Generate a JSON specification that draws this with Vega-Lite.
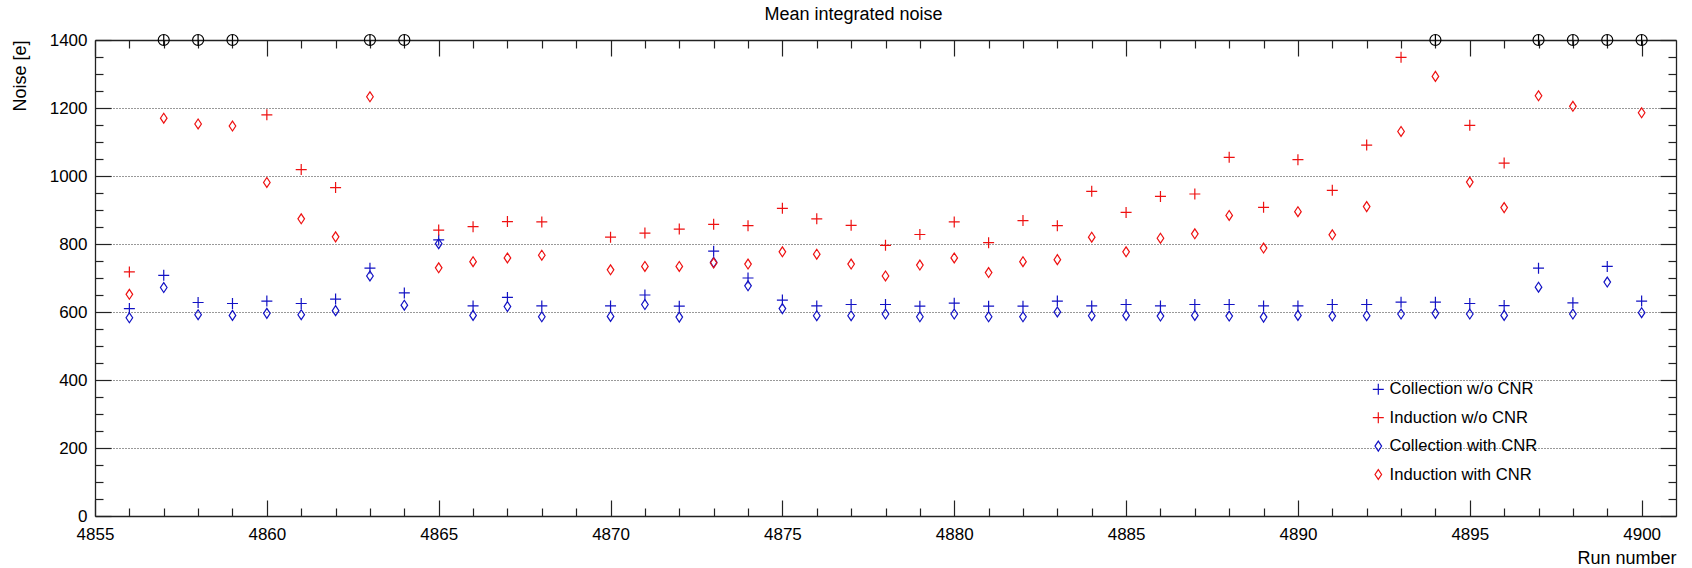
{
  "$schema": "https://vega.github.io/schema/vega-lite/v6.json",
  "width": 1581,
  "height": 476,
  "autosize": {"type": "none"},
  "padding": {"left": 95, "top": 40, "right": 16, "bottom": 52},
  "background": "white",
  "config": {
    "view": {"stroke": null},
    "font": "Liberation Sans",
    "axis": {
      "domainColor": "#222",
      "domainWidth": 1.3,
      "tickColor": "#222",
      "tickWidth": 1.2,
      "labelFont": "Liberation Sans",
      "labelFontSize": 17,
      "labelColor": "black",
      "labelFlush": false,
      "labelOverlap": false,
      "titleFont": "Liberation Sans",
      "titleFontSize": 18,
      "titleFontWeight": "normal",
      "titleColor": "black"
    }
  },
  "title": {
    "text": "Mean integrated noise",
    "font": "Liberation Sans",
    "fontSize": 18,
    "fontWeight": "normal",
    "color": "black",
    "anchor": "middle",
    "dx": -32,
    "offset": 7
  },
  "datasets": {
    "noise": [
      {"run": 4856, "Collection w/o CNR": 610, "Induction w/o CNR": 718, "Collection with CNR": 583, "Induction with CNR": 652},
      {"run": 4857, "Collection w/o CNR": 708, "Induction w/o CNR": null, "Collection with CNR": 672, "Induction with CNR": 1170},
      {"run": 4858, "Collection w/o CNR": 628, "Induction w/o CNR": null, "Collection with CNR": 592, "Induction with CNR": 1153},
      {"run": 4859, "Collection w/o CNR": 625, "Induction w/o CNR": null, "Collection with CNR": 590, "Induction with CNR": 1147},
      {"run": 4860, "Collection w/o CNR": 632, "Induction w/o CNR": 1180, "Collection with CNR": 596, "Induction with CNR": 981},
      {"run": 4861, "Collection w/o CNR": 625, "Induction w/o CNR": 1019, "Collection with CNR": 592, "Induction with CNR": 874},
      {"run": 4862, "Collection w/o CNR": 638, "Induction w/o CNR": 966, "Collection with CNR": 604, "Induction with CNR": 821},
      {"run": 4863, "Collection w/o CNR": 729, "Induction w/o CNR": null, "Collection with CNR": 706, "Induction with CNR": 1233},
      {"run": 4864, "Collection w/o CNR": 656, "Induction w/o CNR": null, "Collection with CNR": 620, "Induction with CNR": null},
      {"run": 4865, "Collection w/o CNR": 812, "Induction w/o CNR": 841, "Collection with CNR": 801, "Induction with CNR": 730},
      {"run": 4866, "Collection w/o CNR": 618, "Induction w/o CNR": 851, "Collection with CNR": 590, "Induction with CNR": 748},
      {"run": 4867, "Collection w/o CNR": 643, "Induction w/o CNR": 866, "Collection with CNR": 616, "Induction with CNR": 759},
      {"run": 4868, "Collection w/o CNR": 618, "Induction w/o CNR": 865, "Collection with CNR": 586, "Induction with CNR": 767},
      {"run": 4870, "Collection w/o CNR": 618, "Induction w/o CNR": 820, "Collection with CNR": 587, "Induction with CNR": 724},
      {"run": 4871, "Collection w/o CNR": 650, "Induction w/o CNR": 832, "Collection with CNR": 622, "Induction with CNR": 734},
      {"run": 4872, "Collection w/o CNR": 617, "Induction w/o CNR": 844, "Collection with CNR": 585, "Induction with CNR": 734},
      {"run": 4873, "Collection w/o CNR": 779, "Induction w/o CNR": 858, "Collection with CNR": 746, "Induction with CNR": 744},
      {"run": 4874, "Collection w/o CNR": 700, "Induction w/o CNR": 854, "Collection with CNR": 677, "Induction with CNR": 741},
      {"run": 4875, "Collection w/o CNR": 635, "Induction w/o CNR": 905, "Collection with CNR": 610, "Induction with CNR": 777},
      {"run": 4876, "Collection w/o CNR": 618, "Induction w/o CNR": 874, "Collection with CNR": 589, "Induction with CNR": 770},
      {"run": 4877, "Collection w/o CNR": 622, "Induction w/o CNR": 855, "Collection with CNR": 589, "Induction with CNR": 741},
      {"run": 4878, "Collection w/o CNR": 622, "Induction w/o CNR": 796, "Collection with CNR": 594, "Induction with CNR": 706},
      {"run": 4879, "Collection w/o CNR": 617, "Induction w/o CNR": 828, "Collection with CNR": 586, "Induction with CNR": 738},
      {"run": 4880, "Collection w/o CNR": 626, "Induction w/o CNR": 865, "Collection with CNR": 594, "Induction with CNR": 759},
      {"run": 4881, "Collection w/o CNR": 617, "Induction w/o CNR": 804, "Collection with CNR": 586, "Induction with CNR": 716},
      {"run": 4882, "Collection w/o CNR": 617, "Induction w/o CNR": 869, "Collection with CNR": 586, "Induction with CNR": 748},
      {"run": 4883, "Collection w/o CNR": 632, "Induction w/o CNR": 854, "Collection with CNR": 600, "Induction with CNR": 754},
      {"run": 4884, "Collection w/o CNR": 618, "Induction w/o CNR": 955, "Collection with CNR": 589, "Induction with CNR": 820},
      {"run": 4885, "Collection w/o CNR": 622, "Induction w/o CNR": 893, "Collection with CNR": 590, "Induction with CNR": 777},
      {"run": 4886, "Collection w/o CNR": 618, "Induction w/o CNR": 940, "Collection with CNR": 588, "Induction with CNR": 817},
      {"run": 4887, "Collection w/o CNR": 622, "Induction w/o CNR": 947, "Collection with CNR": 590, "Induction with CNR": 830},
      {"run": 4888, "Collection w/o CNR": 622, "Induction w/o CNR": 1055, "Collection with CNR": 588, "Induction with CNR": 884},
      {"run": 4889, "Collection w/o CNR": 618, "Induction w/o CNR": 908, "Collection with CNR": 585, "Induction with CNR": 788},
      {"run": 4890, "Collection w/o CNR": 618, "Induction w/o CNR": 1048, "Collection with CNR": 590, "Induction with CNR": 895},
      {"run": 4891, "Collection w/o CNR": 622, "Induction w/o CNR": 958, "Collection with CNR": 588, "Induction with CNR": 827},
      {"run": 4892, "Collection w/o CNR": 622, "Induction w/o CNR": 1091, "Collection with CNR": 589, "Induction with CNR": 910},
      {"run": 4893, "Collection w/o CNR": 629, "Induction w/o CNR": 1349, "Collection with CNR": 594, "Induction with CNR": 1131},
      {"run": 4894, "Collection w/o CNR": 629, "Induction w/o CNR": null, "Collection with CNR": 596, "Induction with CNR": 1293},
      {"run": 4895, "Collection w/o CNR": 625, "Induction w/o CNR": 1149, "Collection with CNR": 594, "Induction with CNR": 982},
      {"run": 4896, "Collection w/o CNR": 619, "Induction w/o CNR": 1038, "Collection with CNR": 590, "Induction with CNR": 907},
      {"run": 4897, "Collection w/o CNR": 729, "Induction w/o CNR": null, "Collection with CNR": 673, "Induction with CNR": 1236},
      {"run": 4898, "Collection w/o CNR": 627, "Induction w/o CNR": null, "Collection with CNR": 594, "Induction with CNR": 1205},
      {"run": 4899, "Collection w/o CNR": 734, "Induction w/o CNR": null, "Collection with CNR": 688, "Induction with CNR": null},
      {"run": 4900, "Collection w/o CNR": 632, "Induction w/o CNR": null, "Collection with CNR": 598, "Induction with CNR": 1186}
    ],
    "offscale": [
      {"run": 4857, "noise": 1400},
      {"run": 4858, "noise": 1400},
      {"run": 4859, "noise": 1400},
      {"run": 4863, "noise": 1400},
      {"run": 4864, "noise": 1400},
      {"run": 4894, "noise": 1400},
      {"run": 4897, "noise": 1400},
      {"run": 4898, "noise": 1400},
      {"run": 4899, "noise": 1400},
      {"run": 4900, "noise": 1400}
    ]
  },
  "layer": [
    {
      "data": {"name": "noise"},
      "transform": [
        {"fold": ["Collection w/o CNR", "Induction w/o CNR", "Collection with CNR", "Induction with CNR"], "as": ["series", "noise"]},
        {"filter": "datum.noise != null"}
      ],
      "mark": {"type": "point", "filled": false, "size": 121, "strokeWidth": 1.2, "opacity": 1},
      "encoding": {
        "x": {
          "field": "run", "type": "quantitative",
          "scale": {"domain": [4855, 4901], "nice": false, "zero": false},
          "axis": {
            "orient": "bottom",
            "values": [4855,4856,4857,4858,4859,4860,4861,4862,4863,4864,4865,4866,4867,4868,4869,4870,4871,4872,4873,4874,4875,4876,4877,4878,4879,4880,4881,4882,4883,4884,4885,4886,4887,4888,4889,4890,4891,4892,4893,4894,4895,4896,4897,4898,4899,4900],
            "format": "d",
            "labelExpr": "datum.value % 5 === 0 ? datum.label : ''",
            "tickSize": {"condition": {"test": "datum.value % 5 === 0", "value": -16}, "value": -8},
            "labelPadding": 26,
            "grid": false,
            "title": "Run number",
            "titleAnchor": "end",
            "titleAlign": "right",
            "titleBaseline": "middle",
            "titleX": 1581,
            "titleY": 42
          }
        },
        "y": {
          "field": "noise", "type": "quantitative",
          "scale": {"domain": [0, 1400], "nice": false},
          "axis": {
            "orient": "left",
            "values": [0,50,100,150,200,250,300,350,400,450,500,550,600,650,700,750,800,850,900,950,1000,1050,1100,1150,1200,1250,1300,1350,1400],
            "format": "d",
            "labelExpr": "datum.value % 200 === 0 ? datum.label : ''",
            "tickSize": {"condition": {"test": "datum.value % 200 === 0", "value": -16}, "value": -8},
            "labelPadding": 24,
            "grid": true,
            "gridColor": "#333",
            "gridDash": [1, 2],
            "gridWidth": 1,
            "gridOpacity": {"condition": {"test": "datum.value % 200 === 0 && datum.value > 0 && datum.value < 1400", "value": 1}, "value": 0},
            "title": "Noise [e]",
            "titleAnchor": "end",
            "titleAlign": "right",
            "titleBaseline": "middle",
            "titleAngle": 270,
            "titleX": -75,
            "titleY": 0
          }
        },
        "color": {
          "field": "series", "type": "nominal",
          "scale": {
            "domain": ["Collection w/o CNR", "Induction w/o CNR", "Collection with CNR", "Induction with CNR"],
            "range": ["#1212c4", "#ee1111", "#1212c4", "#ee1111"]
          },
          "legend": {
            "orient": "none", "legendX": 1275, "legendY": 341,
            "title": null,
            "labelFont": "Liberation Sans", "labelFontSize": 16.6, "labelColor": "black",
            "symbolSize": 121, "symbolStrokeWidth": 1.2,
            "rowPadding": 11.4, "labelOffset": 3
          }
        },
        "shape": {
          "field": "series", "type": "nominal",
          "scale": {
            "domain": ["Collection w/o CNR", "Induction w/o CNR", "Collection with CNR", "Induction with CNR"],
            "range": ["M-1,0H1M0,-1V1", "M-1,0H1M0,-1V1", "M0,-0.9L0.6,0L0,0.9L-0.6,0Z", "M0,-0.9L0.6,0L0,0.9L-0.6,0Z"]
          },
          "legend": {
            "orient": "none", "legendX": 1275, "legendY": 341,
            "title": null,
            "labelFont": "Liberation Sans", "labelFontSize": 16.6, "labelColor": "black",
            "symbolSize": 121, "symbolStrokeWidth": 1.2,
            "rowPadding": 11.4, "labelOffset": 3
          }
        }
      }
    },
    {
      "data": {"name": "offscale"},
      "mark": {"type": "point", "filled": false, "size": 121, "strokeWidth": 1.2, "color": "black", "opacity": 1,
               "shape": "M1,0A1,1,0,1,1,-1,0A1,1,0,1,1,1,0ZM0,-1V1"},
      "encoding": {
        "x": {
          "field": "run", "type": "quantitative",
          "axis": {
            "orient": "top",
            "values": [4855,4856,4857,4858,4859,4860,4861,4862,4863,4864,4865,4866,4867,4868,4869,4870,4871,4872,4873,4874,4875,4876,4877,4878,4879,4880,4881,4882,4883,4884,4885,4886,4887,4888,4889,4890,4891,4892,4893,4894,4895,4896,4897,4898,4899,4900],
            "labels": false,
            "title": null,
            "grid": false,
            "tickSize": {"condition": {"test": "datum.value % 5 === 0", "value": -16}, "value": -8}
          }
        },
        "y": {
          "field": "noise", "type": "quantitative",
          "axis": {
            "orient": "right",
            "values": [0,50,100,150,200,250,300,350,400,450,500,550,600,650,700,750,800,850,900,950,1000,1050,1100,1150,1200,1250,1300,1350,1400],
            "labels": false,
            "title": null,
            "grid": false,
            "tickSize": {"condition": {"test": "datum.value % 200 === 0", "value": -16}, "value": -8}
          }
        }
      }
    }
  ],
  "resolve": {"axis": {"x": "independent", "y": "independent"}}
}
